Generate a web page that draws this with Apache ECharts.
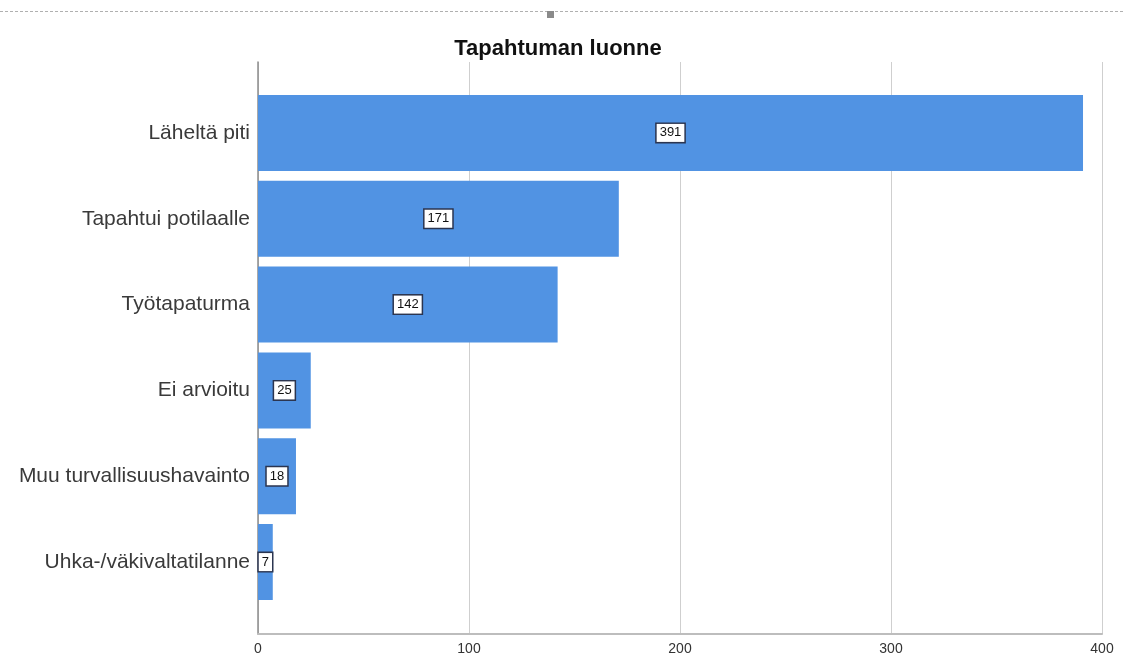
<!DOCTYPE html>
<html>
<head>
<meta charset="utf-8">
<script src="https://cdn.jsdelivr.net/npm/echarts@6/dist/echarts.min.js"></script>
<style>
  html, body { margin: 0; padding: 0; background: #fff; }
  #chart { width: 1124px; height: 660px; }
</style>
</head>
<body>
<div id="chart"></div>
<script>
// Event type counts
const categories = [
  'Läheltä piti',
  'Tapahtui potilaalle',
  'Työtapaturma',
  'Ei arvioitu',
  'Muu turvallisuushavainto',
  'Uhka-/väkivaltatilanne'
];
const counts = [391, 171, 142, 25, 18, 7];
const xTicks = [0, 100, 200, 300, 400];

const chart = echarts.init(document.getElementById('chart'));

chart.setOption({
  backgroundColor: '#ffffff',
  animation: false,
  title: {
    text: 'Tapahtuman luonne',
    left: 553,
    top: 33,
    textAlign: 'center',
    textStyle: {
      fontFamily: 'Liberation Sans, Arial, sans-serif',
      fontSize: 22,
      fontWeight: 'bold',
      color: '#111'
    }
  },
  graphic: [
    {
      type: 'line',
      shape: { x1: 0, y1: 11.5, x2: 1124, y2: 11.5 },
      style: { stroke: '#b0b0b0', lineWidth: 1, lineDash: [3, 2] },
      silent: true
    },
    {
      type: 'rect',
      shape: { x: 547, y: 11, width: 7, height: 7 },
      style: { fill: '#8a8a8a' },
      silent: true
    }
  ],
  grid: [
    { left: 258, right: 22, top: 62, bottom: 26 },
    { left: 258, right: 22, top: 90, height: 515 }
  ],
  xAxis: [
    {
      type: 'value',
      gridIndex: 0,
      min: xTicks[0],
      max: xTicks[xTicks.length - 1],
      interval: xTicks[1] - xTicks[0],
      axisLine: { show: true, lineStyle: { color: '#bdbdbd', width: 2 } },
      axisTick: { show: false },
      splitLine: { show: true, lineStyle: { color: '#cfcfcf', width: 1 } },
      axisLabel: {
        margin: 8,
        fontFamily: 'Liberation Sans Narrow, Liberation Sans, Arial, sans-serif',
        fontSize: 14,
        color: '#333'
      }
    },
    {
      type: 'value',
      gridIndex: 1,
      min: xTicks[0],
      max: xTicks[xTicks.length - 1],
      show: false
    }
  ],
  yAxis: [
    {
      type: 'value',
      gridIndex: 0,
      min: 0,
      max: 1,
      axisLine: { show: true, lineStyle: { color: '#8c8c8c', width: 1.5 } },
      axisTick: { show: false },
      axisLabel: { show: false },
      splitLine: { show: false }
    },
    {
      type: 'category',
      gridIndex: 1,
      data: categories,
      inverse: true,
      axisLine: { show: false },
      axisTick: { show: false },
      splitLine: { show: false },
      axisLabel: {
        margin: 8,
        fontFamily: 'Liberation Sans, Arial, sans-serif',
        fontSize: 21,
        color: '#3a3a3a'
      }
    }
  ],
  series: [
    {
      type: 'bar',
      xAxisIndex: 1,
      yAxisIndex: 1,
      data: counts,
      barWidth: 76,
      itemStyle: { color: '#5193e3' },
      label: {
        show: true,
        position: 'inside',
        fontFamily: 'Liberation Sans, Arial, sans-serif',
        fontSize: 13,
        color: '#111',
        backgroundColor: '#ffffff',
        borderColor: '#2b3550',
        borderWidth: 1.5,
        padding: [3, 3, 2, 3]
      }
    }
  ]
});
</script>
</body>
</html>
